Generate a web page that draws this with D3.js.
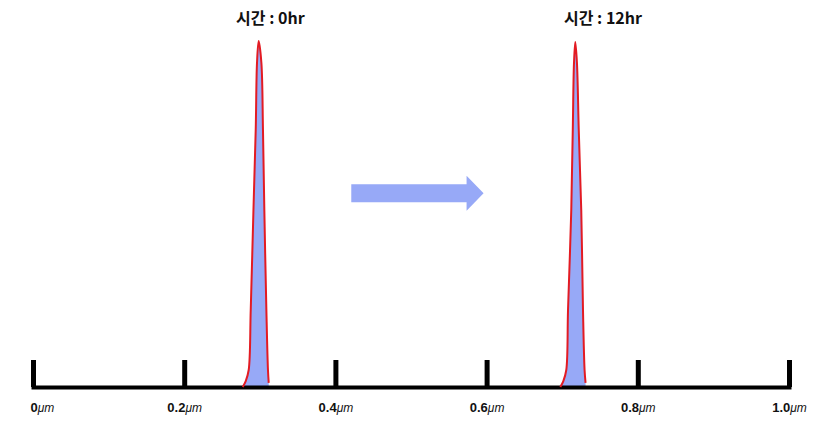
<!DOCTYPE html>
<html>
<head>
<meta charset="utf-8">
<script src="https://cdn.jsdelivr.net/npm/d3@7"></script>
<style>
  body { margin: 0; background: #fff; }
  svg { display: block; }
  .title { font-family: "Noto Sans CJK KR", "Noto Sans", sans-serif; font-weight: bold; font-size: 16px; fill: #111; }
  .x-axis text { font-family: "Liberation Sans", Arial, sans-serif; font-size: 13px; fill: #111; }
</style>
</head>
<body>
<div id="chart"></div>
<script>
const svgWidth = 829, svgHeight = 423;

// axis ticks (micrometres)
const tickValues = [0, 0.2, 0.4, 0.6, 0.8, 1.0];
const tickLabels = ['0', '0.2', '0.4', '0.6', '0.8', '1.0'];
const unit = 'μm';

// peak profiles: position (μm) and relative height
const peak0hrPos = [0.2774, 0.2814, 0.2853, 0.2880, 0.2916, 0.2946, 0.2963, 0.2985,
                    0.3021, 0.3042, 0.3060, 0.3087, 0.3108, 0.3118];
const peak0hrHeight = [0, 0.017, 0.049, 0.222, 0.510, 0.741, 0.934, 0.997,
                       0.934, 0.741, 0.510, 0.222, 0.049, 0.012];
const peak12hrPos = [0.6975, 0.7015, 0.7054, 0.7077, 0.7120, 0.7140, 0.7156, 0.7173,
                     0.7195, 0.7219, 0.7252, 0.7275, 0.7296, 0.7309];
const peak12hrHeight = [0, 0.017, 0.049, 0.222, 0.510, 0.741, 0.934, 0.994,
                        0.934, 0.741, 0.510, 0.222, 0.049, 0.012];

// titles above the peaks
const titleTexts = ['시간 : 0hr', '시간 : 12hr'];
const titlePos = [0.314, 0.754];

// arrow between the two time points
const arrowFrom = 0.421, arrowTo = 0.596, arrowLevel = 0.558;

const fillColor = '#97a9f7';
const lineColor = '#e31b23';

const svg = d3.select('#chart')
  .append('svg')
  .attr('width', svgWidth)
  .attr('height', svgHeight);

const xScale = d3.scaleLinear().domain([0, 1]).range([33, 789]);
const yScale = d3.scaleLinear().domain([0, 1]).range([387, 40]);

const peaks = [
  d3.zip(peak0hrPos, peak0hrHeight),
  d3.zip(peak12hrPos, peak12hrHeight)
];

const area = d3.area()
  .x(d => xScale(d[0]))
  .y0(yScale(0))
  .y1(d => yScale(d[1]))
  .curve(d3.curveCatmullRom);

const line = d3.line()
  .x(d => xScale(d[0]))
  .y(d => yScale(d[1]))
  .curve(d3.curveCatmullRom);

// peak fills
svg.selectAll('path.peak-fill')
  .data(peaks)
  .enter()
  .append('path')
  .attr('class', 'peak-fill')
  .attr('d', area)
  .attr('fill', fillColor);

// axis: ticks point up, labels below
const xAxis = d3.axisBottom(xScale)
  .tickValues(tickValues)
  .tickSize(-27)
  .tickSizeOuter(0)
  .tickPadding(16)
  .tickFormat((d, i) => tickLabels[i]);

const axisG = svg.append('g')
  .attr('class', 'x-axis')
  .attr('transform', `translate(0,${yScale(0)})`)
  .call(xAxis);

axisG.select('.domain')
  .attr('stroke', '#000')
  .attr('stroke-width', 4)
  .attr('stroke-linecap', 'square');
axisG.selectAll('.tick line')
  .attr('stroke', '#000')
  .attr('stroke-width', 5);
axisG.selectAll('.tick text')
  .attr('font-weight', 'bold')
  .each(function() {
    d3.select(this).append('tspan')
      .attr('font-weight', 'normal')
      .attr('font-style', 'italic')
      .attr('font-size', '12px')
      .text(unit);
  });
axisG.selectAll('.tick text')
  .filter((d, i) => i === 0)
  .attr('text-anchor', 'start')
  .attr('x', -3);

// peak outlines
svg.selectAll('path.peak-line')
  .data(peaks)
  .enter()
  .append('path')
  .attr('class', 'peak-line')
  .attr('d', line)
  .attr('fill', 'none')
  .attr('stroke', lineColor)
  .attr('stroke-width', 2)
  .attr('stroke-linejoin', 'round');

// titles
svg.selectAll('text.title')
  .data(titleTexts)
  .enter()
  .append('text')
  .attr('class', 'title')
  .attr('x', (d, i) => xScale(titlePos[i]))
  .attr('y', 24)
  .attr('text-anchor', 'middle')
  .text(d => d);

// arrow
const ax0 = xScale(arrowFrom), ax1 = xScale(arrowTo), ay = yScale(arrowLevel);
const bodyHalf = 9, headHalf = 17.5, headLen = 17;
svg.append('path')
  .attr('d', `M${ax0},${ay - bodyHalf}H${ax1 - headLen}V${ay - headHalf}L${ax1},${ay}` +
             `L${ax1 - headLen},${ay + headHalf}V${ay + bodyHalf}H${ax0}Z`)
  .attr('fill', fillColor);
</script>
</body>
</html>
